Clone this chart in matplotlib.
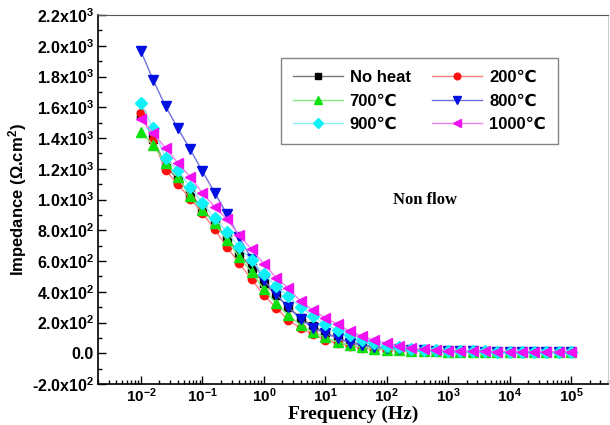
import numpy as np
import matplotlib.pyplot as plt
from matplotlib.ticker import LogLocator, MultipleLocator, FixedLocator

plt.rcParams['mathtext.fontset'] = 'custom'
plt.rcParams['mathtext.rm'] = 'Liberation Sans:bold'
plt.rcParams['mathtext.bf'] = 'Liberation Sans:bold'
plt.rcParams['mathtext.it'] = 'Liberation Sans:bold'
plt.rcParams['font.family'] = ['Liberation Sans', 'DejaVu Sans', 'Noto Sans CJK SC']

# 5 points per decade, 1e-2 .. 1e5
freq = 10 ** (np.arange(36) / 5.0 - 2)

no_heat = [1550, 1396, 1220, 1130, 1040, 943, 845, 750, 650, 553, 455, 377, 300, 230, 175, 135,
           100, 72, 55, 42, 33, 27, 22, 18, 15, 13, 12, 11, 10, 10, 9, 9, 9, 9, 9, 9]
t200 = [1563, 1385, 1190, 1099, 1006, 913, 806, 691, 585, 481, 377, 296, 215, 163, 124, 88,
        65, 48, 36, 28, 22, 18, 15, 13, 12, 11, 10, 10, 9, 9, 9, 8, 8, 8, 8, 8]
t700 = [1440, 1353, 1238, 1147, 1020, 930, 845, 735, 626, 529, 416, 325, 247, 182, 137, 104,
        72, 52, 40, 30, 24, 20, 16, 14, 12, 11, 10, 10, 9, 9, 9, 8, 8, 8, 8, 8]
t800 = [1965, 1776, 1607, 1463, 1327, 1184, 1045, 904, 755, 615, 475, 385, 299, 221, 163, 130,
        98, 68, 52, 40, 33, 28, 24, 20, 17, 15, 13, 12, 11, 10, 10, 9, 9, 9, 9, 9]
t900 = [1626, 1463, 1268, 1190, 1082, 978, 878, 789, 691, 605, 517, 436, 370, 301, 241, 189,
        150, 117, 85, 65, 50, 38, 30, 24, 20, 17, 15, 13, 12, 11, 10, 10, 10, 10, 10, 10]
t1000 = [1522, 1431, 1335, 1238, 1147, 1043, 952, 871, 767, 676, 582, 492, 423, 338, 280, 228,
         189, 143, 111, 85, 65, 46, 33, 25, 20, 17, 15, 13, 12, 11, 11, 10, 10, 10, 10, 10]

series = [
    ('No heat', no_heat, 'black', '#777777', 's'),
    ('200\u2103', t200, '#ff1010', '#ff8080', 'o'),
    ('700\u2103', t700, '#10e010', '#80ee80', '^'),
    ('800\u2103', t800, '#0010e0', '#7070e0', 'v'),
    ('900\u2103', t900, '#10f0f8', '#90f0f8', 'D'),
    ('1000\u2103', t1000, '#f010f0', '#f080f0', '<'),
]

yticks = np.arange(-200, 2201, 200)
ytick_labels = []
for v in yticks:
    if v == 0:
        ytick_labels.append('0.0')
    elif abs(v) >= 1000:
        ytick_labels.append('%.1fx10$^{3}$' % (v / 1000))
    else:
        ytick_labels.append('%.1fx10$^{2}$' % (v / 100))

fig = plt.figure(figsize=(6.1, 4.25), dpi=100)
ax = fig.add_axes([98 / 610, 41 / 425, 510 / 610, 369 / 425])

lines = []
for name, vals, mc, lc, mk in series:
    ms = 6 if mk in ('D', 'o', 's') else 7
    ln, = ax.plot(freq, vals, color=lc, lw=1, marker=mk, markersize=ms,
                  markerfacecolor=mc, markeredgecolor=mc, label=name)
    lines.append(ln)

ax.set_xscale('log')
ax.set_xlim(2e-3, 4e5)
ax.set_ylim(-200, 2200)
ax.xaxis.set_major_locator(FixedLocator([10.0 ** e for e in range(-2, 6)]))
ax.xaxis.set_minor_locator(LogLocator(base=10, subs=np.arange(2, 10), numticks=20))
ax.set_xticklabels(['10$^{%d}$' % e for e in range(-2, 6)])
ax.set_yticks(yticks)
ax.set_yticklabels(ytick_labels)
ax.yaxis.set_minor_locator(MultipleLocator(100))
ax.tick_params(which='both', direction='in', width=1)
ax.tick_params(axis='y', labelsize=11.5, pad=3)
ax.tick_params(axis='x', labelsize=11, pad=2)
ax.tick_params(which='major', length=6)
ax.tick_params(which='minor', length=3)
for lab in ax.get_xticklabels() + ax.get_yticklabels():
    lab.set_fontweight('bold')
for s in ['left', 'bottom']:
    ax.spines[s].set_linewidth(1.2)
ax.spines['top'].set_color('#555555')
ax.spines['right'].set_color('#cccccc')

ax.set_ylabel('Impedance (\u03a9.cm$^{2}$)', fontsize=12, fontweight='bold', labelpad=2)
ax.set_xlabel('Frequency (Hz)', fontsize=14, fontweight='bold',
              family='Liberation Serif', labelpad=0)

ax.text(420, 1000, 'Non flow', fontsize=12, fontweight='bold',
        family='Liberation Serif', ha='center', va='center')

# legend filled row by row as in the original
order = [0, 2, 4, 1, 3, 5]
leg = ax.legend([lines[i] for i in order], [series[i][0] for i in order],
                ncol=2, loc='upper left', bbox_to_anchor=(0.358, 0.884), frameon=True,
                fancybox=False, edgecolor='#666666',
                prop={'weight': 'bold', 'size': 12}, handlelength=3.0, markerscale=0.8,
                columnspacing=1.3, labelspacing=0.5, handletextpad=0.4, borderpad=0.75,
                borderaxespad=0)
leg.get_frame().set_linewidth(1)

fig.savefig('out.png', dpi=100)
